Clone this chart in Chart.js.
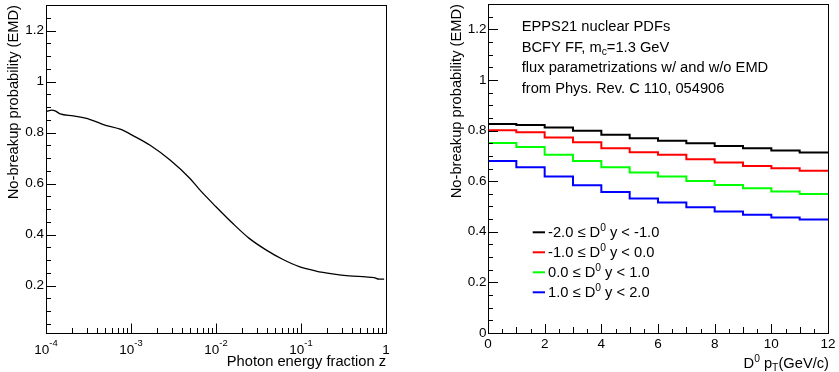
<!DOCTYPE html>
<html>
<head>
<meta charset="utf-8">
<script src="https://cdn.jsdelivr.net/npm/chart.js@4.4.1/dist/chart.umd.min.js"></script>
<style>
  html, body { margin: 0; padding: 0; background: #fff; }
  #wrap { position: relative; width: 839px; height: 372px; }
  #left { position: absolute; left: 0; top: 0; }
  #right { position: absolute; left: 420px; top: 0; }
</style>
</head>
<body>
<div id="wrap">
  <canvas id="left" width="420" height="372"></canvas>
  <canvas id="right" width="419" height="372"></canvas>
</div>
<script>
// LEFT PANEL DATA: no-breakup probability vs photon energy fraction z
const zValues = [1.02e-4, 1.17e-4, 1.28e-4, 1.47e-4, 2.1e-4, 3.31e-4, 4.74e-4, 7.45e-4,
  1.07e-3, 1.68e-3, 2.88e-3, 4.94e-3, 6.37e-3, 1.0e-2, 1.57e-2, 2.46e-2, 3.87e-2,
  6.07e-2, 9.53e-2, 0.150, 0.234, 0.368, 0.579, 0.725, 0.83, 0.951];
const probZ = [0.883, 0.888, 0.885, 0.873, 0.865, 0.851, 0.831, 0.813,
  0.787, 0.750, 0.692, 0.620, 0.577, 0.509, 0.444, 0.385, 0.340,
  0.303, 0.274, 0.257, 0.246, 0.238, 0.234, 0.231, 0.225, 0.225];
const zTicks = [1e-4, 1e-3, 1e-2, 1e-1, 1];
const zTickLabels = ['10^{-4}', '10^{-3}', '10^{-2}', '10^{-1}', '1'];
const probTicksLeft = [0.2, 0.4, 0.6, 0.8, 1, 1.2];

// RIGHT PANEL DATA: no-breakup probability per D0 pT bin, four rapidity bins
const ptEdges = [0, 1, 2, 3, 4, 5, 6, 7, 8, 9, 10, 11, 12];
const ptTicks = [0, 2, 4, 6, 8, 10, 12];
const probTicksRight = [0, 0.2, 0.4, 0.6, 0.8, 1, 1.2];
const rapidityLabels = ['-2.0 \u2264 D^{0} y < -1.0', '-1.0 \u2264 D^{0} y < 0.0',
  '0.0 \u2264 D^{0} y < 1.0', '1.0 \u2264 D^{0} y < 2.0'];
const probYm2 = [0.826, 0.822, 0.812, 0.799, 0.783, 0.770, 0.760, 0.750, 0.739, 0.730, 0.721, 0.713];
const probYm1 = [0.801, 0.793, 0.772, 0.754, 0.730, 0.714, 0.704, 0.687, 0.674, 0.660, 0.651, 0.641];
const probY0  = [0.751, 0.735, 0.704, 0.680, 0.655, 0.634, 0.618, 0.601, 0.585, 0.572, 0.559, 0.549];
const probY1  = [0.680, 0.655, 0.618, 0.584, 0.557, 0.531, 0.516, 0.497, 0.480, 0.467, 0.456, 0.448];
const noteLines = ['EPPS21 nuclear PDFs', 'BCFY FF, m_{c}=1.3 GeV',
  'flux parametrizations w/ and w/o EMD', 'from Phys. Rev. C 110, 054906'];

const seriesColors = ['#000000', '#ff0000', '#00ff00', '#0000ff'];
const FONT = '"Liberation Sans", Arial, Helvetica, sans-serif';
Chart.defaults.font.family = FONT;
Chart.defaults.color = '#000';

// draws text with ROOT-like ^{..} and _{..}
function drawLatex(ctx, str, x, y, size, align, raise) {
  const segs = [];
  const re = /([_^])\{([^}]*)\}/g;
  let last = 0, m;
  while ((m = re.exec(str))) {
    if (m.index > last) segs.push({t: str.slice(last, m.index), k: ''});
    segs.push({t: m[2], k: m[1]});
    last = re.lastIndex;
  }
  if (last < str.length) segs.push({t: str.slice(last), k: ''});
  let w = 0;
  segs.forEach(s => {
    s.size = s.k ? size * 0.7 : size;
    ctx.font = s.size + 'px ' + FONT;
    s.w = ctx.measureText(s.t).width;
    w += s.w;
  });
  let cx = align === 'right' ? x - w : align === 'center' ? x - w / 2 : x;
  ctx.textAlign = 'left';
  ctx.textBaseline = 'alphabetic';
  ctx.fillStyle = '#000';
  segs.forEach(s => {
    ctx.font = s.size + 'px ' + FONT;
    const dy = s.k === '^' ? -(raise || 0.4) * size : s.k === '_' ? 0.22 * size : 0;
    ctx.fillText(s.t, cx, y + dy);
    cx += s.w;
  });
}

function line(ctx, x1, y1, x2, y2) {
  ctx.beginPath();
  ctx.moveTo(x1, y1);
  ctx.lineTo(x2, y2);
  ctx.stroke();
}

function frameAndYTicks(chart) {
  const {ctx, chartArea: a, scales: {y}} = chart;
  ctx.strokeStyle = '#000';
  ctx.lineWidth = 1;
  ctx.strokeRect(a.left + 0.5, a.top + 0.5, a.right - a.left, a.bottom - a.top);
  for (let k = 0; k <= 26; k++) {
    const v = k * 0.05;
    if (v < y.min || v > y.max) continue;
    const py = Math.round(y.getPixelForValue(v)) + 0.5;
    line(ctx, a.left, py, a.left + (k % 4 === 0 ? 10 : 5), py);
  }
}

//LEFT CHART
const leftDecor = {
  id: 'leftDecor',
  afterDraw(chart) {
    const {ctx, chartArea: a, scales: {x}} = chart;
    ctx.save();
    frameAndYTicks(chart);
    for (let e = -4; e <= 0; e++) {
      for (let m = 1; m <= 9; m++) {
        const v = m * Math.pow(10, e);
        if (v > x.max * 1.0001) break;
        const px = Math.round(x.getPixelForValue(v)) + 0.5;
        line(ctx, px, a.bottom, px, a.bottom - (m === 1 ? 9.5 : 5));
      }
    }
    zTicks.forEach((v, i) => {
      drawLatex(ctx, zTickLabels[i], x.getPixelForValue(v), 354, 13.5, 'center', 0.57);
    });
    ctx.restore();
  }
};

new Chart(document.getElementById('left'), {
  type: 'line',
  data: {
    datasets: [{
      data: zValues.map((z, i) => ({x: z, y: probZ[i]})),
      borderColor: '#000',
      borderWidth: 1.3,
      pointRadius: 0,
      cubicInterpolationMode: 'monotone',
      fill: false
    }]
  },
  options: {
    responsive: false,
    animation: false,
    layout: { padding: {left: 0, right: 34, top: 5, bottom: 0} },
    plugins: { legend: {display: false}, tooltip: {enabled: false} },
    scales: {
      x: {
        type: 'logarithmic',
        min: 1e-4, max: 1,
        grid: {display: false, drawTicks: false},
        border: {display: false},
        ticks: {display: false},
        title: {
          display: true, text: 'Photon energy fraction z', align: 'end',
          font: {size: 14.7}, padding: {top: 0, bottom: 1}
        },
        afterFit(s) { s.height = 39; s.paddingLeft = 0; s.paddingRight = 0; }
      },
      y: {
        type: 'linear',
        min: 0.014, max: 1.3,
        grid: {display: false, drawTicks: false},
        border: {display: false},
        afterBuildTicks(s) { s.ticks = probTicksLeft.map(v => ({value: v})); },
        ticks: {
          font: {size: 13.5}, padding: 2, autoSkip: false,
          callback: v => String(+v.toFixed(2))
        },
        title: {
          display: true, text: 'No-breakup probability (EMD)', align: 'end',
          font: {size: 14.7}, padding: {top: 5, bottom: 0}
        },
        afterFit(s) { s.width = 46; s.paddingTop = 0; s.paddingBottom = 0; }
      }
    }
  },
  plugins: [leftDecor]
});

//RIGHT CHART
const rightDecor = {
  id: 'rightDecor',
  afterDraw(chart) {
    const {ctx, chartArea: a, scales: {x}} = chart;
    ctx.save();
    frameAndYTicks(chart);
    for (let k = 0; k <= 24; k++) {
      const px = Math.round(x.getPixelForValue(k * 0.5)) + 0.5;
      line(ctx, px, a.bottom, px, a.bottom - (k % 4 === 0 ? 9 : k % 2 === 0 ? 6 : 4));
    }
    drawLatex(ctx, 'D^{0} p_{T}(GeV/c)', a.right + 1, 367.5, 14.7, 'right', 0.4);
    noteLines.forEach((t, i) => drawLatex(ctx, t, 101.7, 31 + i * 20.5, 14.7, 'left'));
    rapidityLabels.forEach((t, i) => {
      const cy = 232.3 + i * 20;
      ctx.strokeStyle = seriesColors[i];
      ctx.lineWidth = 2;
      line(ctx, 112.7, cy, 125, cy);
      drawLatex(ctx, t, 128, cy + 5, 14.7, 'left', 0.4);
    });
    ctx.restore();
  }
};

const rapiditySeries = [probYm2, probYm1, probY0, probY1];

new Chart(document.getElementById('right'), {
  type: 'line',
  data: {
    datasets: rapiditySeries.map((vals, j) => ({
      label: rapidityLabels[j],
      data: ptEdges.map((x, i) => ({x, y: vals[Math.min(i, vals.length - 1)]})),
      stepped: 'before',
      borderColor: seriesColors[j],
      borderWidth: 2,
      borderJoinStyle: 'miter',
      pointRadius: 0,
      fill: false
    }))
  },
  options: {
    responsive: false,
    animation: false,
    layout: { padding: {left: 0, right: 11, top: 4, bottom: 0} },
    plugins: { legend: {display: false}, tooltip: {enabled: false} },
    scales: {
      x: {
        type: 'linear',
        min: 0, max: 12,
        grid: {display: false, drawTicks: false},
        border: {display: false},
        afterBuildTicks(s) { s.ticks = ptTicks.map(v => ({value: v})); },
        ticks: { font: {size: 13.5}, padding: 3, autoSkip: false, maxRotation: 0 },
        title: {display: false},
        afterFit(s) { s.height = 39; s.paddingLeft = 0; s.paddingRight = 0; }
      },
      y: {
        type: 'linear',
        min: 0, max: 1.3,
        grid: {display: false, drawTicks: false},
        border: {display: false},
        afterBuildTicks(s) { s.ticks = probTicksRight.map(v => ({value: v})); },
        ticks: {
          font: {size: 13.5}, padding: 1.5, autoSkip: false,
          callback: v => String(+v.toFixed(2))
        },
        title: {
          display: true, text: 'No-breakup probability (EMD)', align: 'end',
          font: {size: 14.7}, padding: {top: 28, bottom: 0}
        },
        afterFit(s) { s.width = 68; s.paddingTop = 0; s.paddingBottom = 0; }
      }
    }
  },
  plugins: [rightDecor]
});
</script>
</body>
</html>
